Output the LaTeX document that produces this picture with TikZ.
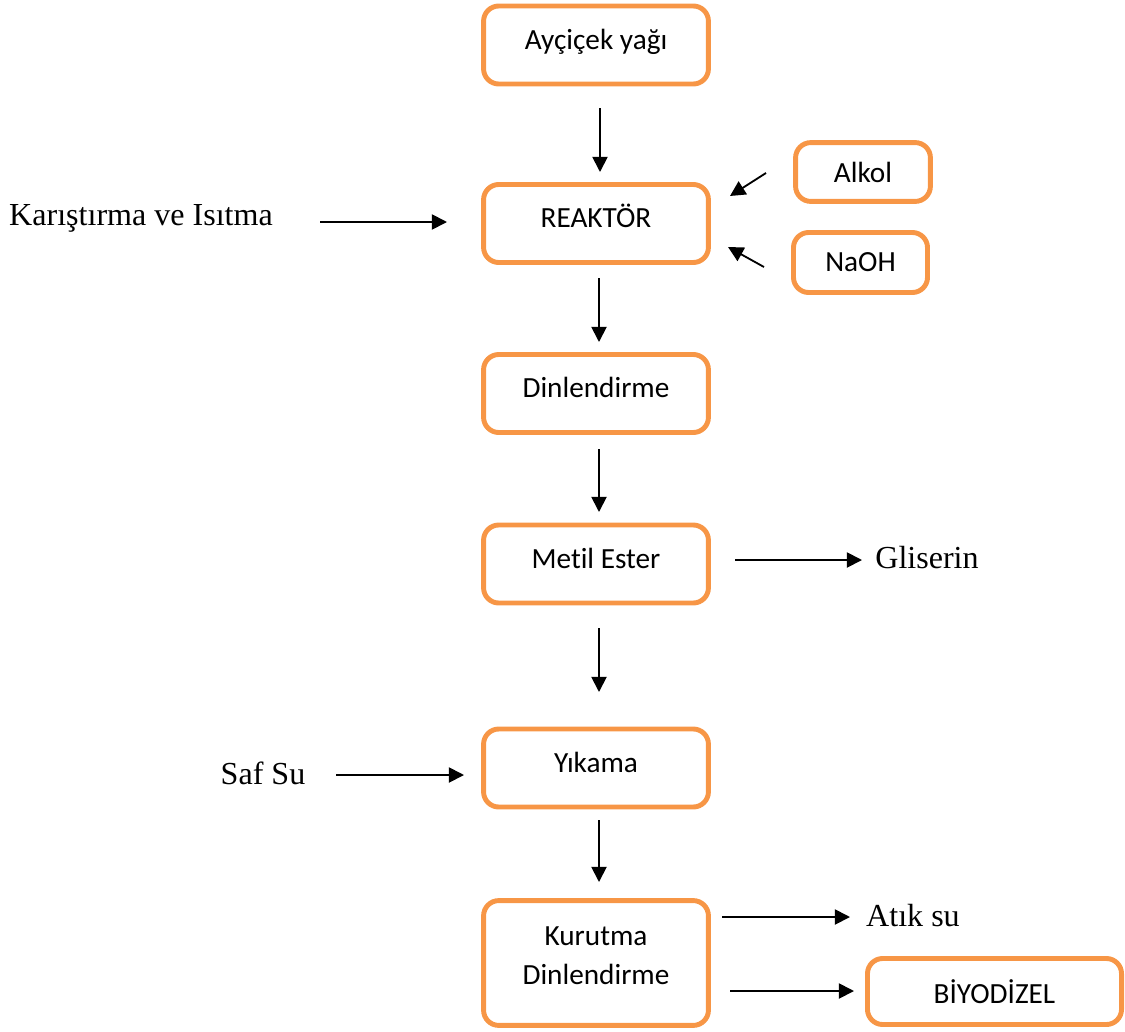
\documentclass[tikz,border=0pt]{standalone}
\usepackage{fontspec}
\setmainfont{Liberation Serif}
\newfontfamily\boxfont[Ligatures=NoCommon]{Carlito}
\usetikzlibrary{arrows.meta}
\definecolor{boxorange}{HTML}{F79646}

\tikzset{
  box/.style={draw=boxorange, line width=3.5pt, rounded corners=0.38cm,
    minimum width=5.62cm, minimum height=1.95cm, align=center,
    font=\boxfont\fontsize{20.8}{28}\selectfont},
  mainbox/.style={box, execute at end node={\rule[-0.38cm]{0pt}{0.98cm}}},
  side/.style={font=\fontsize{22.8}{26}\selectfont},
  arr/.style={line width=1.3pt, -{Triangle[length=0.38cm,width=0.38cm]}}
}

\begin{document}
\begin{tikzpicture}[x=0.025cm,y=-0.025cm]
\useasboundingbox (0,0) rectangle (1125,1032);
% main line
\node[mainbox] (ayc) at (596,45) {Ayçiçek yağı};
\node[mainbox] (reak) at (596,223.5) {REAKTÖR};
\node[mainbox] (dinl) at (596,393.5) {Dinlendirme};
\node[mainbox] (metil) at (596,564) {Metil Ester};
\node[mainbox] (yik) at (596,768) {Yıkama};
\node[mainbox, minimum height=3.12cm] (kur) at (596,963) {Kurutma\\Dinlendirme};
% side boxes
\node[box, minimum width=3.37cm, minimum height=1.47cm] (alkol) at (863,172) {Alkol};
\node[box, minimum width=3.35cm, minimum height=1.5cm] (naoh) at (860.5,262.5) {NaOH};
\node[box, minimum width=6.35cm, minimum height=1.65cm] (biyo) at (994.5,991.5) {BİYODİZEL};
% side texts
\node[side] (karis) at (141,218) {Karıştırma ve Isıtma};
\node[side] (glis) at (927,558) {Gliserin};
\node[side] (saf) at (263,773) {Saf Su};
\node[side] (atik) at (913,916) {Atık su};

% arrow ends
\coordinate (d1a) at (600,108); \coordinate (d1b) at (600,172);
\coordinate (d2a) at (599,278); \coordinate (d2b) at (599,342);
\coordinate (d3a) at (599,449); \coordinate (d3b) at (599,512);
\coordinate (d4a) at (599,628); \coordinate (d4b) at (599,692);
\coordinate (d5a) at (599,820); \coordinate (d5b) at (599,882);
\coordinate (ka) at (320,222); \coordinate (kb) at (447,222);
\coordinate (ala) at (766,173); \coordinate (alb) at (730,196);
\coordinate (naa) at (764,267); \coordinate (nab) at (728,247);
\coordinate (ga) at (735,560); \coordinate (gb) at (862,560);
\coordinate (sa) at (336,775); \coordinate (sb) at (464,775);
\coordinate (ata) at (722,917); \coordinate (atb) at (850,917);
\coordinate (ba) at (730,991); \coordinate (bb) at (854,991);

\draw[arr] (d1a) -- (d1b);
\draw[arr] (d2a) -- (d2b);
\draw[arr] (d3a) -- (d3b);
\draw[arr] (d4a) -- (d4b);
\draw[arr] (d5a) -- (d5b);
\draw[arr] (ka) -- (kb);
\draw[arr] (ala) -- (alb);
\draw[arr] (naa) -- (nab);
\draw[arr] (ga) -- (gb);
\draw[arr] (sa) -- (sb);
\draw[arr] (ata) -- (atb);
\draw[arr] (ba) -- (bb);
\end{tikzpicture}
\end{document}
